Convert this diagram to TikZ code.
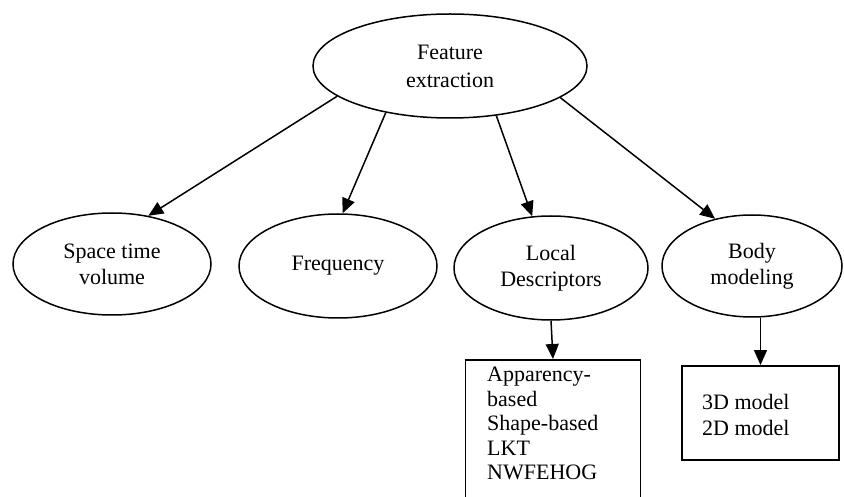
\documentclass[tikz,border=0pt]{standalone}
\usepackage{fontspec}
\setmainfont{Liberation Serif}
\usetikzlibrary{shapes.geometric,arrows.meta}
\begin{document}
\begin{tikzpicture}[x=1pt,y=-1pt,
  oval/.style={ellipse,draw,line width=1.5pt,inner sep=0pt,align=center,
    font=\fontsize{22}{26}\selectfont},
  boxnode/.style={rectangle,draw,line width=1.5pt,inner sep=0pt},
  boxtext/.style={align=left,inner sep=0pt,font=\fontsize{22}{24.5}\selectfont},
  conn/.style={line width=1.5pt,-{Triangle[length=15pt,width=13pt]}}]
\useasboundingbox (0,0) rectangle (844,497);
\clip (0,0) rectangle (844,497);
\node[oval,minimum width=274pt,minimum height=104pt] (fe) at (450,66) {Feature\\[2pt]extraction};
\node[oval,minimum width=198pt,minimum height=102pt] (stv) at (112,264) {Space time\\volume};
\node[oval,minimum width=198pt,minimum height=104pt] (freq) at (338,266) {Frequency};
\node[oval,minimum width=194pt,minimum height=104pt] (ld) at (551,268) {Local\\Descriptors};
\node[oval,minimum width=180pt,minimum height=102pt] (bm) at (752,266) {Body\\modeling};
\node[boxnode,minimum width=175pt,minimum height=160pt,anchor=north] (ldbox) at (553,359) {};
\node[boxtext,anchor=north west] (ldtext) at (487,367) {Apparency-\\based\\Shape-based\\LKT\\NWFEHOG};
\node[boxnode,minimum width=157pt,minimum height=94pt,anchor=north] (bmbox) at (760.5,365) {};
\node[boxtext,anchor=west,font=\fontsize{22}{26}\selectfont] (bmtext) at (702,415) {3D model\\2D model};
\draw[conn] (fe.195) -- (stv.53);
\draw[conn] (fe.216) -- (freq.85);
\draw[conn] (fe.313) -- (ld.110);
\draw[conn] (fe.344) -- (bm.128);
\draw[conn] (ld.south) -- (ldbox.north);
\draw[conn] (bm.south -| bmbox.north) -- (bmbox.north);
\end{tikzpicture}
\end{document}
